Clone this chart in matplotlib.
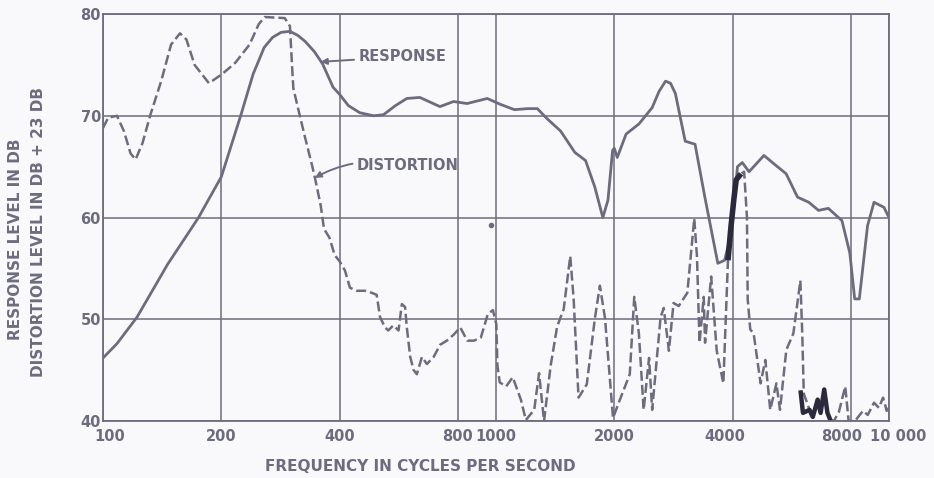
"""Loudspeaker response and distortion curves, redrawn from an old chart."""

import matplotlib

matplotlib.use("Agg")
import matplotlib.pyplot as plt
from matplotlib.ticker import NullLocator
from matplotlib.transforms import ScaledTranslation

# colours of the scanned chart
INK = "#6d6c7e"
DARK = "#2a2a3c"
BG = "#f9f9fc"

# axis ticks
x_ticks = [100, 200, 400, 800, 1000, 2000, 4000, 8000, 10000]
x_tick_labels = ["100", "200", "400", "800", "1000", "2000", "4000", "8000", "10 000"]
y_ticks = [40, 50, 60, 70, 80]

# response curve (solid)
resp_freq = [100, 108.5, 122, 146, 175, 200, 224, 241, 257, 270, 284, 299, 313,
             327, 345, 362, 385, 400, 421, 450, 488, 517, 555, 593, 640, 720,
             780, 844, 950, 1029, 1114, 1203, 1274, 1350, 1460, 1587, 1690,
             1784, 1870, 1927, 1980, 2000, 2035, 2143, 2311, 2497, 2600, 2700,
             2780, 2860, 3030, 3210, 3400, 3668, 3818, 3970, 4116, 4234, 4405,
             4806, 5088, 5474, 5852, 6250, 6617, 7009, 7590, 7950, 8180, 8405,
             8820, 9160, 9710, 10000]
resp_db = [46.2, 47.6, 50.2, 55.4, 60.0, 64.0, 70.0, 74.1, 76.7, 77.7, 78.2, 78.3,
           77.9, 77.3, 76.3, 75.1, 72.8, 72.1, 71.0, 70.3, 70.0, 70.1, 71.0, 71.7,
           71.8, 70.9, 71.4, 71.2, 71.7, 71.1, 70.6, 70.7, 70.7, 69.7, 68.5, 66.4,
           65.6, 63.0, 60.0, 61.7, 66.6, 66.8, 65.9, 68.2, 69.2, 70.8, 72.4, 73.4,
           73.2, 72.2, 67.5, 67.2, 62.0, 55.5, 55.8, 58.5, 65.0, 65.4, 64.5, 66.1,
           65.3, 64.3, 62.0, 61.5, 60.7, 60.9, 59.7, 56.5, 52.0, 52.0, 59.2, 61.5,
           61.0, 60.0]

# distortion curve (dashed)
dist_freq = [100, 103, 108.5, 113, 117.5, 121, 126, 132, 140.6, 149, 157, 163, 171,
             186, 201, 217, 236, 249, 258, 290, 299, 302, 305, 315, 327, 341, 347,
             358, 365, 377, 388.6, 400, 412.6, 425, 442, 464, 483, 497, 507, 522,
             532, 548, 565, 576, 587, 593, 605, 617, 629, 648, 667, 694, 721, 750,
             781, 811, 845, 879, 915, 953, 982, 1002, 1008, 1022, 1061, 1103, 1157,
             1191, 1251, 1287, 1325, 1377, 1431, 1487, 1545, 1576, 1622, 1702,
             1785, 1838, 1894, 1985, 2062, 2190, 2248, 2310, 2375, 2452, 2497,
             2623, 2672, 2754, 2830, 2917, 3068, 3195, 3246, 3296, 3377, 3404,
             3528, 3645, 3789, 3893, 3962, 4030, 4085, 4202, 4280, 4351, 4370,
             4436, 4525, 4713, 4846, 4987, 5171, 5280, 5480, 5710, 5950, 6016,
             6070, 6277, 6399, 6584, 6699, 6842, 6973, 7092, 7242, 7457, 7740,
             7894, 8194, 8585, 8830, 9160, 9422, 9659, 9870, 10000]
dist_db = [68.8, 69.8, 70.0, 68.5, 66.3, 65.7, 67.3, 70.1, 73.4, 77.0, 78.1, 77.5,
           75.0, 73.2, 74.1, 75.2, 77.0, 79.0, 79.7, 79.6, 78.8, 75.6, 72.7, 70.4,
           67.8, 65.0, 63.7, 61.2, 58.9, 58.0, 56.3, 55.7, 54.8, 53.1, 52.8, 52.8,
           52.6, 52.4, 50.2, 49.2, 48.9, 49.4, 48.9, 51.5, 51.2, 49.2, 46.3, 45.0,
           44.6, 46.3, 45.6, 46.3, 47.5, 47.9, 48.5, 49.2, 47.9, 47.9, 48.2, 50.5,
           50.9, 49.5, 45.5, 43.8, 43.4, 44.3, 42.1, 40.1, 41.1, 44.7, 40.0, 45.4,
           49.3, 51.0, 56.2, 52.0, 42.3, 43.6, 50.1, 53.3, 50.1, 40.3, 42.0, 44.6,
           52.2, 48.6, 41.1, 46.2, 41.1, 50.2, 51.1, 46.9, 51.6, 51.3, 52.6, 59.9,
           56.2, 47.7, 52.2, 47.7, 54.2, 46.9, 43.7, 55.8, 59.1, 61.8, 63.7, 64.3,
           64.5, 60.0, 52.0, 49.0, 48.6, 43.7, 46.0, 41.1, 43.7, 41.1, 47.0, 48.6,
           53.8, 48.6, 42.7, 41.1, 40.4, 42.1, 40.8, 43.1, 40.8, 40.1, 40.0, 40.9,
           43.4, 40.0, 40.0, 41.0, 40.6, 41.8, 41.3, 42.3, 41.0, 41.5]

# heavy ink marks over the distortion curve
ink1_freq = [3893, 3962, 4030, 4085, 4202]
ink1_db = [55.8, 59.1, 61.8, 63.7, 64.3]
ink2_freq = [5963, 6041, 6277, 6399, 6584, 6699, 6842, 6973, 7092]
ink2_db = [42.8, 40.8, 41.1, 40.4, 42.1, 40.8, 43.1, 40.8, 40.1]

# stray dot on the sheet
dot_freq = [970]
dot_db = [59.3]

FONT = dict(family="DejaVu Sans", weight="bold", color=INK)

fig = plt.figure(figsize=(9.34, 4.78), dpi=100, facecolor=BG)
ax = fig.add_axes([0.1103, 0.1192, 0.8415, 0.8515])
ax.set_facecolor(BG)

ax.set_xscale("log")
ax.set_xlim(100, 10000)
ax.set_ylim(40, 80)
ax.set_xticks(x_ticks)
ax.set_xticklabels(x_tick_labels)
ax.xaxis.set_minor_locator(NullLocator())
ax.set_yticks(y_ticks)
ax.grid(True, color=INK, lw=1.1)
ax.set_axisbelow(True)
ax.tick_params(length=0)
ax.tick_params(axis="x", pad=6)
ax.tick_params(axis="y", pad=1.5)
for lab in ax.get_xticklabels() + ax.get_yticklabels():
    lab.set_fontsize(10.5)
    lab.set_fontweight("bold")
    lab.set_color(INK)
for s in ax.spines.values():
    s.set_color(INK)
    s.set_linewidth(1.3)

# the hand lettering sits a little off some grid lines
nudge = {"100": 7, "4000": -8, "8000": -9, "10 000": 9}
for lab in ax.get_xticklabels():
    dx = nudge.get(lab.get_text(), 0)
    if dx:
        lab.set_transform(lab.get_transform() + ScaledTranslation(dx / 100, 0, fig.dpi_scale_trans))

ax.plot(resp_freq, resp_db, color=INK, lw=2.0, solid_capstyle="round")
ax.plot(dist_freq, dist_db, color=INK, lw=1.8, linestyle=(0, (4, 1.6)))
ax.plot(ink1_freq, ink1_db, color=DARK, lw=4.0, solid_capstyle="butt")
ax.plot(ink2_freq, ink2_db, color=DARK, lw=3.2)
ax.plot(dot_freq, dot_db, "o", color=INK, ms=3)

ax.annotate("RESPONSE", xy=(358, 75.3), xytext=(446, 75.8),
            ha="left", va="center", fontsize=10.5, **FONT,
            arrowprops=dict(arrowstyle="-|>", color=INK, lw=1.4,
                            mutation_scale=9, shrinkA=1, shrinkB=0))
ax.annotate("DISTORTION", xy=(346, 63.9), xytext=(442, 65.1),
            ha="left", va="center", fontsize=10.5, **FONT,
            arrowprops=dict(arrowstyle="-|>", color=INK, lw=1.4,
                            mutation_scale=9, shrinkA=1, shrinkB=0,
                            connectionstyle="arc3,rad=0.2"))

fig.text(0.45, 0.025, "FREQUENCY IN CYCLES PER SECOND", ha="center", va="center",
         fontsize=11, **FONT)
fig.text(0.017, 0.5, "RESPONSE LEVEL IN DB", rotation=90,
         ha="center", va="center", fontsize=11, **FONT)
fig.text(0.0407, 0.515, "DISTORTION LEVEL IN DB + 23 DB", rotation=90,
         ha="center", va="center", fontsize=11, **FONT)

fig.savefig("out.png", dpi=100, facecolor=BG)
